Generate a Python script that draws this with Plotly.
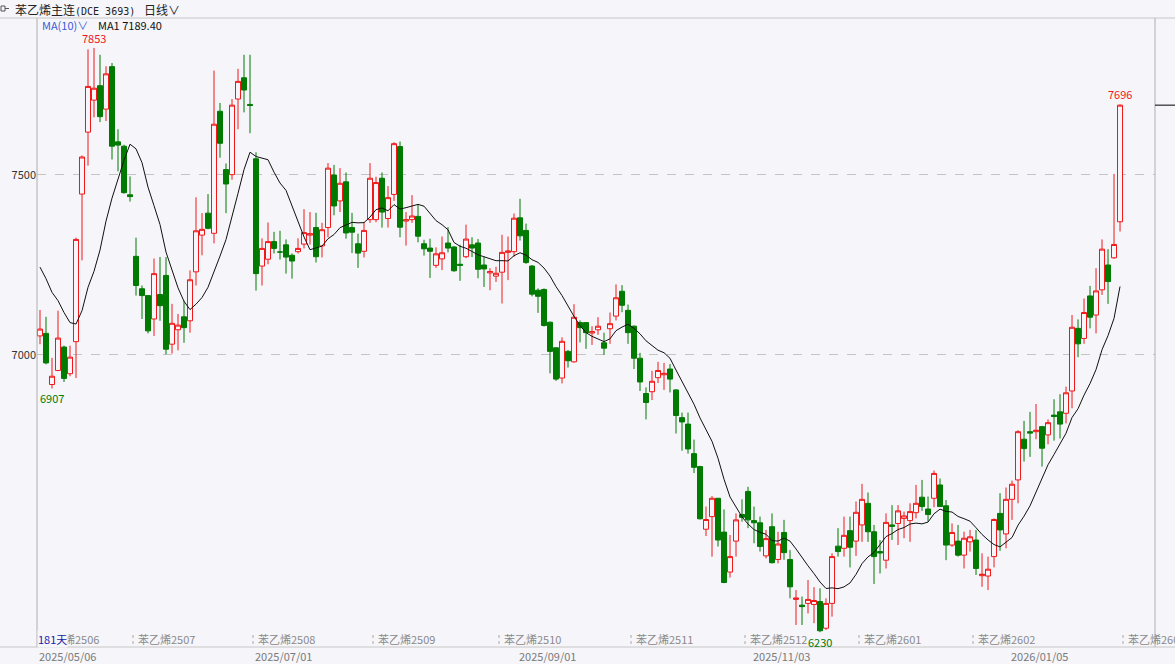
import plotly.graph_objects as go

# ---------------- data ----------------
opens = [7053, 7060, 6918, 6957, 7022, 6948, 7037, 7447, 7619, 7708,
         7748, 7683, 7801, 7592, 7580, 7445, 7274, 7184, 7165, 7100,
         7168, 7221, 7030, 7070, 7106, 7095, 7231, 7333, 7394, 7338,
         7677, 7515, 7501, 7711, 7770, 7696, 7545, 7247, 7266, 7315,
         7286, 7306, 7277, 7287, 7308, 7333, 7354, 7303, 7354, 7500,
         7428, 7481, 7354, 7309, 7288, 7376, 7376, 7491, 7379, 7446,
         7579, 7372, 7376, 7385, 7309, 7297, 7249, 7267, 7311, 7300,
         7252, 7273, 7306, 7311, 7250, 7228, 7219, 7230, 7285, 7287,
         7381, 7346, 7247, 7180, 7182, 7091, 7020, 6936, 7010, 6981,
         7090, 7090, 7061, 7070, 7034, 7073, 7108, 7177, 7124, 7080,
         6991, 6893, 6898, 6937, 6945, 6961, 6903, 6826, 6808, 6726,
         6690, 6516, 6551, 6602, 6508, 6397, 6483, 6557, 6621, 6540,
         6534, 6442, 6523, 6432, 6507, 6432, 6321, 6305, 6310, 6307,
         6315, 6241, 6310, 6469, 6463, 6512, 6483, 6528, 6588, 6509,
         6454, 6430, 6528, 6532, 6546, 6540, 6562, 6605, 6572, 6602,
         6639, 6581, 6472, 6483, 6444, 6481, 6486, 6387, 6386, 6440,
         6560, 6503, 6599, 6653, 6766, 6787, 6787, 6801, 6778, 6833,
         6842, 6838, 6900, 7074, 7046, 7164, 7111, 7181, 7250, 7270,
         7370]
highs = [7125, 7106, 6992, 7123, 7026, 7026, 7326, 7554, 7849, 7853,
         7834, 7802, 7811, 7627, 7584, 7496, 7326, 7193, 7165, 7268,
         7272, 7272, 7142, 7114, 7151, 7235, 7438, 7394, 7447, 7790,
         7700, 7532, 7711, 7795, 7834, 7834, 7563, 7324, 7368, 7342,
         7345, 7321, 7282, 7324, 7405, 7397, 7395, 7367, 7533, 7528,
         7519, 7507, 7395, 7337, 7369, 7533, 7495, 7507, 7469, 7591,
         7593, 7397, 7444, 7419, 7320, 7323, 7299, 7329, 7355, 7303,
         7306, 7362, 7327, 7322, 7273, 7241, 7245, 7334, 7329, 7393,
         7434, 7365, 7250, 7185, 7185, 7093, 7021, 7049, 7014, 7141,
         7096, 7091, 7080, 7105, 7062, 7118, 7196, 7194, 7140, 7082,
         7006, 6910, 6956, 6981, 6978, 6975, 6905, 6840, 6840, 6765,
         6692, 6579, 6608, 6602, 6571, 6500, 6560, 6599, 6634, 6579,
         6551, 6514, 6560, 6509, 6542, 6458, 6347, 6329, 6375, 6355,
         6352, 6324, 6449, 6519, 6551, 6551, 6593, 6642, 6618, 6528,
         6486, 6560, 6583, 6583, 6565, 6588, 6639, 6653, 6607, 6679,
         6657, 6597, 6532, 6528, 6509, 6514, 6514, 6449, 6440, 6546,
         6616, 6632, 6651, 6791, 6817, 6842, 6864, 6803, 6821, 6877,
         6891, 6912, 7111, 7099, 7157, 7192, 7241, 7321, 7294, 7503,
         7696]
lows = [7030, 6974, 6907, 6955, 6925, 6941, 6936, 7263, 7526, 7660,
        7647, 7650, 7543, 7510, 7448, 7426, 7165, 7100, 7060, 7053,
        7095, 7002, 7004, 7013, 7034, 7062, 7193, 7277, 7349, 7310,
        7548, 7394, 7487, 7627, 7674, 7616, 7179, 7193, 7252, 7282,
        7265, 7226, 7212, 7282, 7296, 7307, 7257, 7271, 7327, 7388,
        7397, 7323, 7283, 7242, 7271, 7367, 7369, 7354, 7354, 7428,
        7327, 7304, 7367, 7313, 7276, 7214, 7242, 7236, 7285, 7231,
        7206, 7269, 7272, 7213, 7189, 7180, 7203, 7143, 7208, 7273,
        7318, 7253, 7163, 7117, 7079, 6949, 6928, 6921, 6965, 6979,
        7035, 7017, 7028, 7056, 7000, 7031, 7096, 7119, 7031, 6961,
        6900, 6821, 6875, 6922, 6903, 6896, 6782, 6734, 6726, 6672,
        6543, 6497, 6440, 6468, 6366, 6382, 6440, 6537, 6519, 6477,
        6454, 6435, 6421, 6421, 6431, 6324, 6250, 6250, 6282, 6255,
        6230, 6236, 6273, 6440, 6440, 6410, 6442, 6481, 6481, 6364,
        6393, 6407, 6486, 6472, 6491, 6481, 6546, 6567, 6537, 6577,
        6579, 6430, 6467, 6440, 6407, 6454, 6389, 6356, 6347, 6410,
        6456, 6463, 6542, 6588, 6704, 6717, 6766, 6690, 6752, 6762,
        6768, 6810, 6852, 6994, 7031, 7074, 7060, 7167, 7142, 7267,
        7343]
closes = [7072, 6978, 6941, 7047, 6935, 6994, 7321, 7550, 7746, 7741,
          7662, 7781, 7580, 7583, 7451, 7440, 7193, 7165, 7067, 7226,
          7137, 7016, 7088, 7083, 7076, 7209, 7345, 7349, 7352, 7641,
          7588, 7475, 7694, 7760, 7736, 7693, 7226, 7296, 7315, 7296,
          7286, 7272, 7261, 7296, 7340, 7337, 7273, 7348, 7519, 7414,
          7477, 7339, 7341, 7283, 7346, 7491, 7479, 7397, 7437, 7587,
          7355, 7376, 7386, 7330, 7295, 7288, 7281, 7284, 7297, 7234,
          7249, 7322, 7297, 7238, 7239, 7232, 7227, 7285, 7289, 7380,
          7331, 7257, 7169, 7163, 7082, 7010, 6933, 7038, 6984, 7105,
          7076, 7062, 7065, 7080, 7019, 7087, 7159, 7138, 7062, 6991,
          6925, 6868, 6927, 6957, 6949, 6933, 6832, 6814, 6739, 6688,
          6545, 6543, 6602, 6486, 6368, 6440, 6542, 6549, 6542, 6534,
          6468, 6490, 6423, 6475, 6451, 6356, 6325, 6301, 6321, 6318,
          6234, 6310, 6440, 6454, 6499, 6466, 6563, 6599, 6509, 6440,
          6450, 6535, 6524, 6567, 6553, 6565, 6588, 6579, 6557, 6671,
          6579, 6472, 6507, 6444, 6491, 6495, 6407, 6391, 6405, 6543,
          6514, 6599, 6641, 6787, 6740, 6783, 6791, 6741, 6812, 6829,
          6808, 6895, 7077, 7031, 7118, 7105, 7178, 7294, 7204, 7307,
          7694]

# MA(10) values of the first 9 bars (need earlier data)
ma_head = [7244, 7212, 7174, 7151, 7118, 7090, 7086, 7123, 7188]

date_labels = ["2025/05/06", "2025/07/01", "2025/09/01", "2025/11/03", "2026/01/05"]
date_pos = [0, 36, 80, 119, 162]

contract_labels = ["苯乙烯2506", "苯乙烯2507", "苯乙烯2508", "苯乙烯2509", "苯乙烯2510",
                   "苯乙烯2511", "苯乙烯2512", "苯乙烯2601", "苯乙烯2602", "苯乙烯2603"]
contract_pos = [0, 16, 36, 56, 77, 99, 118, 137, 156, 181]

y_ticks = [7000, 7500]

# ---------------- styling ----------------
BG = "#F5F5FA"
UP = "#F01818"
DOWN = "#007A00"
FONT = "Noto Sans CJK SC, Liberation Sans, sans-serif"

n = len(closes)
idx = list(range(n))
ma10 = ma_head + [sum(closes[i - 9:i + 1]) / 10 for i in range(9, n)]

W, H = 1175, 664
ML, MR, MT, MB = 37, 20, 18, 19
PW = W - ML - MR
PH = H - MT - MB
Y_TOP, Y_BOT = 7936.1, 6194.4
X_MIN, X_MAX = -0.5, 185.83


def px(p):
    return (p - ML) / PW


def py(q):
    return (H - MB - q) / PH


fig = go.Figure()
fig.add_trace(go.Candlestick(
    x=idx, open=opens, high=highs, low=lows, close=closes,
    increasing=dict(line=dict(color=UP, width=1), fillcolor=BG),
    decreasing=dict(line=dict(color=DOWN, width=1), fillcolor=DOWN),
    whiskerwidth=0, hoverinfo="skip", showlegend=False))
fig.add_trace(go.Scatter(x=idx, y=ma10, mode="lines",
                         line=dict(color="#111111", width=1),
                         hoverinfo="skip", showlegend=False))

ann = []
# header
ann.append(dict(xref="paper", yref="paper", x=px(13), y=py(9), xanchor="left", yanchor="middle",
                text='苯乙烯主连<span style="font-family:DejaVu Sans Mono;font-size:10px">(DCE 3693)</span>',
                showarrow=False, font=dict(family=FONT, size=12, color="#222222")))
ann.append(dict(xref="paper", yref="paper", x=px(142), y=py(9), xanchor="left", yanchor="middle",
                text="日线∨", showarrow=False, font=dict(family=FONT, size=12, color="#222222")))
ann.append(dict(xref="paper", yref="paper", x=px(40), y=py(25), xanchor="left", yanchor="middle",
                text="MA(10)∨", showarrow=False, font=dict(family=FONT, size=11, color="#3B5BD6")))
ann.append(dict(xref="paper", yref="paper", x=px(96), y=py(25), xanchor="left", yanchor="middle",
                text="MA1 7189.40", showarrow=False, font=dict(family=FONT, size=11, color="#111111")))

# extreme price labels
imax = highs.index(max(highs))
imin = lows.index(min(lows))
ann.append(dict(x=imax, y=highs[imax], yanchor="bottom", text=str(highs[imax]), showarrow=False,
                font=dict(family=FONT, size=11, color=UP), yshift=0))
ann.append(dict(x=2, y=lows[2], yanchor="top", text=str(lows[2]), showarrow=False,
                font=dict(family=FONT, size=11, color=DOWN)))
ann.append(dict(x=n - 1, y=highs[-1], yanchor="bottom", text=str(highs[-1]), showarrow=False,
                font=dict(family=FONT, size=11, color=UP)))
ann.append(dict(x=imin, y=lows[imin], yanchor="top", text=str(lows[imin]), showarrow=False,
                font=dict(family=FONT, size=11, color=DOWN)))

shapes = []
# contract labels
for lab, p in zip(contract_labels, contract_pos):
    ann.append(dict(x=p - 0.5, xref="x", yref="paper", y=py(639), xanchor="left", yanchor="middle",
                    xshift=3, text=lab, showarrow=False,
                    font=dict(family=FONT, size=11, color="#8A8A8A")))
    shapes.append(dict(type="line", xref="x", yref="paper", x0=p - 0.5, x1=p - 0.5,
                       y0=py(644), y1=py(634), line=dict(color="#AAAAAA", width=1, dash="dot")))
ann.append(dict(xref="paper", yref="paper", x=px(37), y=py(639), xanchor="left", yanchor="middle",
                text="181天", showarrow=False, bgcolor=BG, borderpad=0,
                font=dict(family=FONT, size=11, color="#1A1AAA")))

# dates
for lab, p in zip(date_labels, date_pos):
    ann.append(dict(x=p - 0.5, xref="x", yref="paper", y=py(656), xanchor="left", yanchor="middle",
                    text=lab, showarrow=False, font=dict(family=FONT, size=11, color="#7A7A7A")))

# frame lines
shapes.append(dict(type="line", xref="paper", yref="paper", x0=px(0), x1=px(W), y0=py(18), y1=py(18),
                   line=dict(color="#C8C8C8", width=1)))
shapes.append(dict(type="line", xref="paper", yref="paper", x0=px(0), x1=px(W), y0=py(647), y1=py(647),
                   line=dict(color="#C8C8C8", width=1)))
shapes.append(dict(type="line", xref="paper", yref="paper", x0=0, x1=0, y0=py(647), y1=py(18),
                   line=dict(color="#B0B0B0", width=1)))
shapes.append(dict(type="line", xref="paper", yref="paper", x0=1, x1=1, y0=py(647), y1=py(18),
                   line=dict(color="#B0B0B0", width=1)))
# last price marker on the right axis
shapes.append(dict(type="line", xref="paper", yref="y", x0=1, x1=px(W), y0=closes[-1], y1=closes[-1],
                   line=dict(color="#000000", width=1)))
# small icon in the header
shapes.append(dict(type="rect", xref="paper", yref="paper", x0=px(1), x1=px(5), y0=py(11), y1=py(6),
                   line=dict(color="#555555", width=1)))
shapes.append(dict(type="line", xref="paper", yref="paper", x0=px(5), x1=px(9), y0=py(8.5), y1=py(8.5),
                   line=dict(color="#555555", width=1)))

fig.update_layout(
    width=W, height=H,
    margin=dict(l=ML, r=MR, t=MT, b=MB),
    paper_bgcolor=BG, plot_bgcolor=BG,
    boxgap=0.12, boxgroupgap=0.05,
    showlegend=False,
    xaxis=dict(range=[X_MIN, X_MAX], showgrid=False, zeroline=False, showticklabels=False,
               ticks="", rangeslider=dict(visible=False), fixedrange=True),
    yaxis=dict(range=[Y_BOT, Y_TOP], tickvals=y_ticks, ticktext=[str(v) for v in y_ticks],
               showgrid=True, gridcolor="#C4C4C4", griddash="dash", gridwidth=1,
               zeroline=False, ticks="", tickfont=dict(family=FONT, size=11, color="#333333"),
               fixedrange=True),
    annotations=ann,
    shapes=shapes,
)

fig.write_html(
    "out.html",
    config={"displayModeBar": False},
    post_script="document.body.style.margin='0';document.body.style.overflow='hidden';"
                "document.body.style.background='%s';" % BG,
)
